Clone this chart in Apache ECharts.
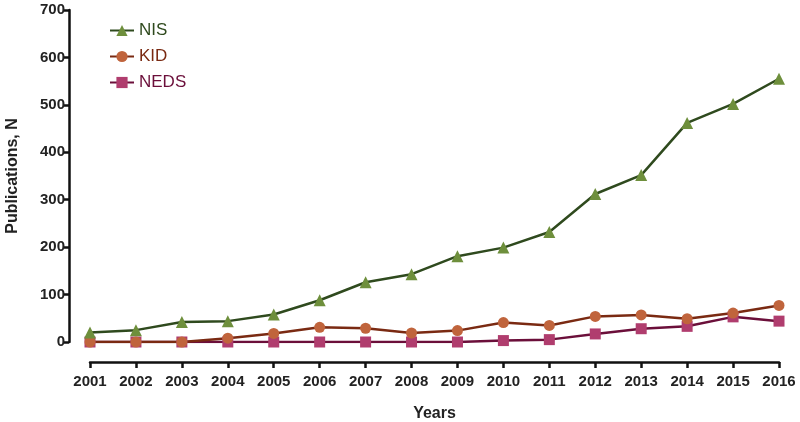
<!DOCTYPE html>
<html><head><meta charset="utf-8">
<script src="https://cdn.jsdelivr.net/npm/echarts@6/dist/echarts.min.js"></script>
<style>html,body{margin:0;padding:0;background:#fff}#c{width:800px;height:422px}</style>
</head><body><div id="c"></div>
<script>
const years = ['2001','2002','2003','2004','2005','2006','2007','2008','2009','2010','2011','2012','2013','2014','2015','2016'];
const nis  = [20, 25, 42, 44, 58, 88, 126, 143, 181, 199, 232, 312, 352, 462, 502, 555];
const kid  = [0, 0, 0, 8, 18, 31, 29, 19, 24, 41, 35, 54, 57, 49, 61, 77];
const neds = [0, 0, 0, 0, 0, 0, 0, 0, 0, 3, 5, 17, 28, 33, 53, 44];
const yTicks = [0, 100, 200, 300, 400, 500, 600, 700];

const chart = echarts.init(document.getElementById('c'), null, {renderer:'canvas'});
const font = 'Liberation Sans, Arial, sans-serif';
function mk(name, data, line, mark, sym, size){
  return {name, type:'line', data, symbol:sym, symbolSize:size,
    lineStyle:{color:line, width:2.5}, itemStyle:{color:mark}, color:mark, z: 3};
}
chart.setOption({
  animation:false,
  grid:{left:90, right:21, top:10, bottom:80, containLabel:false, outerBoundsMode:'none'},
  legend:{orient:'vertical', left:104, top:17, itemGap:9, itemWidth:24, itemHeight:14,
    textStyle:{fontFamily:font, fontSize:17},
    data:[
      {name:'NIS', textStyle:{color:'#2f4a1e'}},
      {name:'KID', textStyle:{color:'#7a2a12'}},
      {name:'NEDS', textStyle:{color:'#6b0f3a'}}
    ]},
  xAxis:{type:'category', data:years, boundaryGap:false, offset:20,
    name:'Years', nameLocation:'middle', nameGap:44,
    nameTextStyle:{fontFamily:font, fontSize:16, fontWeight:'bold', color:'#222'},
    axisLine:{show:true, onZero:false, lineStyle:{color:'#111', width:2.5}},
    axisTick:{show:true, length:6, lineStyle:{color:'#111', width:2.5}},
    axisLabel:{fontFamily:font, fontSize:15, fontWeight:'bold', color:'#222', margin:12},
    splitLine:{show:false}},
  yAxis:{type:'value', min:yTicks[0], max:yTicks[yTicks.length-1], interval:100, offset:21,
    name:'Publications, N', nameLocation:'middle', nameGap:48,
    nameTextStyle:{fontFamily:font, fontSize:16, fontWeight:'bold', color:'#222'},
    axisLine:{show:true, lineStyle:{color:'#111', width:2.5}},
    axisTick:{show:true, length:6, lineStyle:{color:'#111', width:2.5}},
    axisLabel:{fontFamily:font, fontSize:15, fontWeight:'bold', color:'#222', margin:4},
    splitLine:{show:false}},
  series:[
    mk('NEDS', neds, '#6b0f3a', '#b03d6e', 'rect', 11),
    mk('KID', kid, '#7a2a12', '#c0643c', 'circle', 11),
    mk('NIS', nis, '#2f4a1e', '#6e8f3c', 'triangle', 12)
  ]
});
</script></body></html>
